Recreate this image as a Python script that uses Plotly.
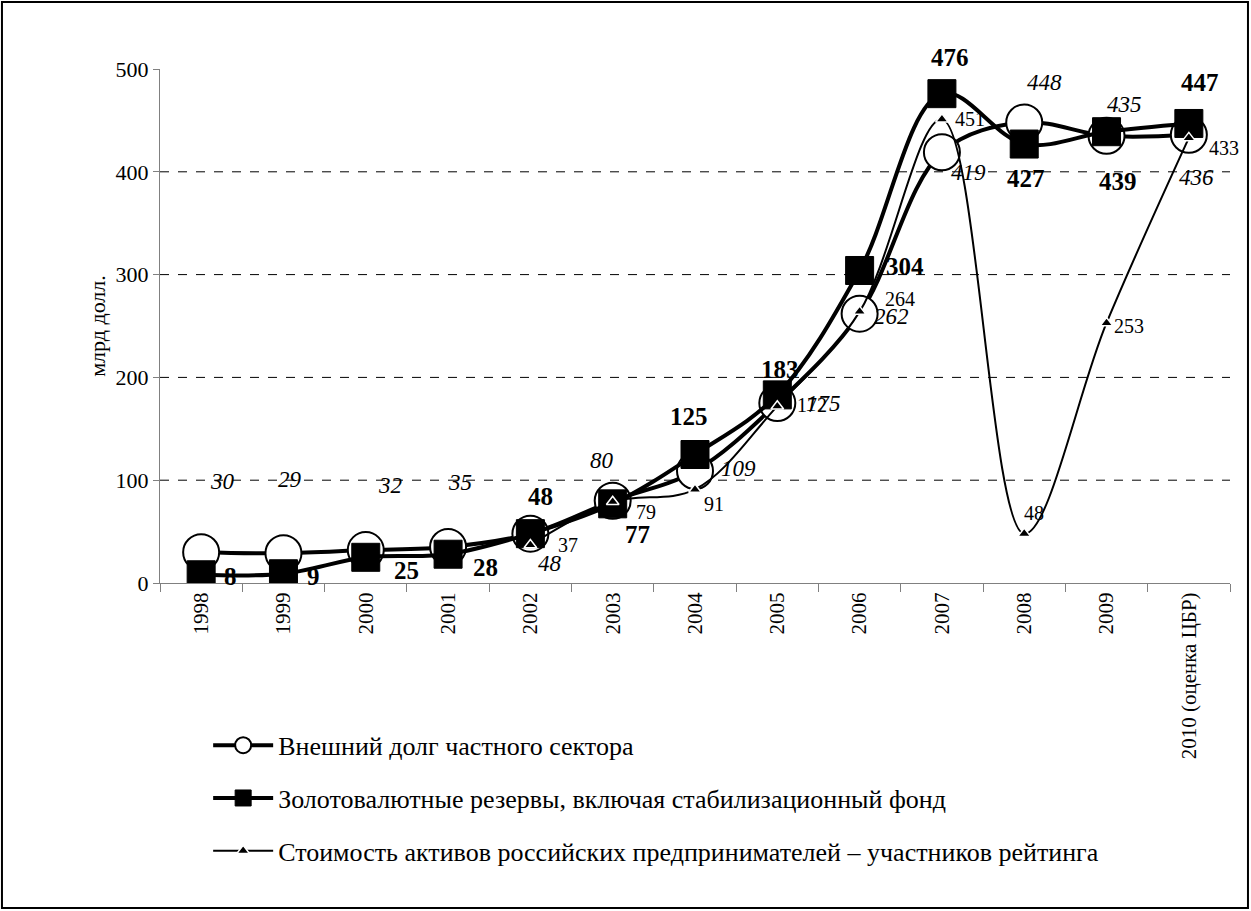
import plotly.graph_objects as go

categories = ["1998", "1999", "2000", "2001", "2002", "2003", "2004", "2005",
              "2006", "2007", "2008", "2009", "2010 (оценка ЦБР)"]
debt = [30, 29, 32, 35, 48, 80, 109, 175, 262, 419, 448, 435, 436]
reserves = [8, 9, 25, 28, 48, 77, 125, 183, 304, 476, 427, 439, 447]
assets = [None, None, None, None, 37, 79, 91, 172, 264, 451, 48, 253, 433]

name_debt = "Внешний долг частного сектора"
name_res = "Золотовалютные резервы, включая стабилизационный фонд"
name_assets = "Стоимость активов российских предпринимателей – участников рейтинга"
y_title = "млрд долл."
grid_values = [100, 200, 300, 400]

# label offsets (pixels, dx, dy-down)
off_debt = [(21, -71), (7, -74), (24, -65), (12, -65), (20, 30), (-11, -40), (43, -2),
            (46, 0), (32, 3), (27, 20), (20, -40), (18, -31), (8, 43)]
off_res = [(29, 2), (30, 3), (41, 13), (37, 13), (10, -37), (25, 31), (-6, -38),
           (3, -25), (45, -4), (8, -36), (2, 34), (11, 50), (11, -41)]
off_assets = [None, None, None, None, (38, 0), (33, 10), (19, 15), (35, -1),
              (40, -13), (28, 0), (10, -21), (22, 3), (35, 10)]

FONT = "Times New Roman, Liberation Serif, DejaVu Serif, serif"

fig = go.Figure()
fig.add_trace(go.Scatter(
    x=categories, y=debt, name=name_debt, mode="lines+markers",
    line=dict(color="black", width=4, shape="spline", smoothing=1),
    marker=dict(symbol="circle", size=36, color="white", line=dict(color="black", width=2)),
    legendgroup="a"))
fig.add_trace(go.Scatter(
    x=categories, y=reserves, name=name_res, mode="lines+markers",
    line=dict(color="black", width=4, shape="spline", smoothing=1),
    marker=dict(symbol="square", size=28, color="black", line=dict(color="black", width=1)),
    legendgroup="b"))
fig.add_trace(go.Scatter(
    x=categories, y=assets, name=name_assets, mode="lines+markers",
    line=dict(color="black", width=2, shape="spline", smoothing=1),
    marker=dict(symbol="triangle-up", size=11, color="black", line=dict(color="white", width=1.5)),
    legendgroup="c", connectgaps=False))

ann = []
for i, (v, o) in enumerate(zip(debt, off_debt)):
    ann.append(dict(x=i, y=v, text="<i>" + str(v) + "</i>", showarrow=False, xshift=o[0], yshift=-o[1],
                    font=dict(family=FONT, size=23, color="black")))
for i, (v, o) in enumerate(zip(reserves, off_res)):
    ann.append(dict(x=i, y=v, text="<b>" + str(v) + "</b>", showarrow=False, xshift=o[0], yshift=-o[1],
                    font=dict(family=FONT, size=25, color="black")))
for i, (v, o) in enumerate(zip(assets, off_assets)):
    if v is None:
        continue
    ann.append(dict(x=i, y=v, text=str(v), showarrow=False, xshift=o[0], yshift=-o[1],
                    font=dict(family=FONT, size=20, color="black")))

shapes = []
for g in grid_values:
    shapes.append(dict(type="line", xref="paper", yref="y", x0=0, x1=1, y0=g, y1=g,
                       line=dict(color="black", width=1, dash="dash"), layer="below"))
shapes.append(dict(type="rect", xref="paper", yref="paper",
                   x0=-0.1477, x1=1.0168, y0=-0.6323, y1=1.1304,
                   line=dict(color="black", width=2)))

fig.update_layout(
    width=1251, height=911,
    margin=dict(l=160, r=21, t=69, b=328),
    paper_bgcolor="white", plot_bgcolor="white",
    font=dict(family=FONT, color="black", size=20),
    showlegend=True,
    legend=dict(x=0.045, y=-0.27, xanchor="left", yanchor="top",
                font=dict(family=FONT, size=26, color="black"),
                itemwidth=60,
                tracegroupgap=16, bgcolor="rgba(0,0,0,0)"),
    annotations=ann, shapes=shapes,
    xaxis=dict(type="category", tickangle=-90, showline=True, linecolor="#808080", linewidth=1,
               ticks="outside", ticklen=8, tickcolor="#808080", tickson="boundaries",
               showgrid=False, tickfont=dict(family=FONT, size=21, color="black"),
               range=[-0.5, 12.5]),
    yaxis=dict(range=[0, 500], dtick=100, showline=True, linecolor="#808080", linewidth=1,
               ticks="outside", ticklen=6, tickcolor="#808080", showgrid=False, zeroline=False,
               tickfont=dict(family=FONT, size=22, color="black"),
               title=dict(text=y_title, font=dict(family=FONT, size=22), standoff=3)),
)

fig.write_html("out.html", post_script="document.body.style.margin='0';",
               config={"displayModeBar": False})
